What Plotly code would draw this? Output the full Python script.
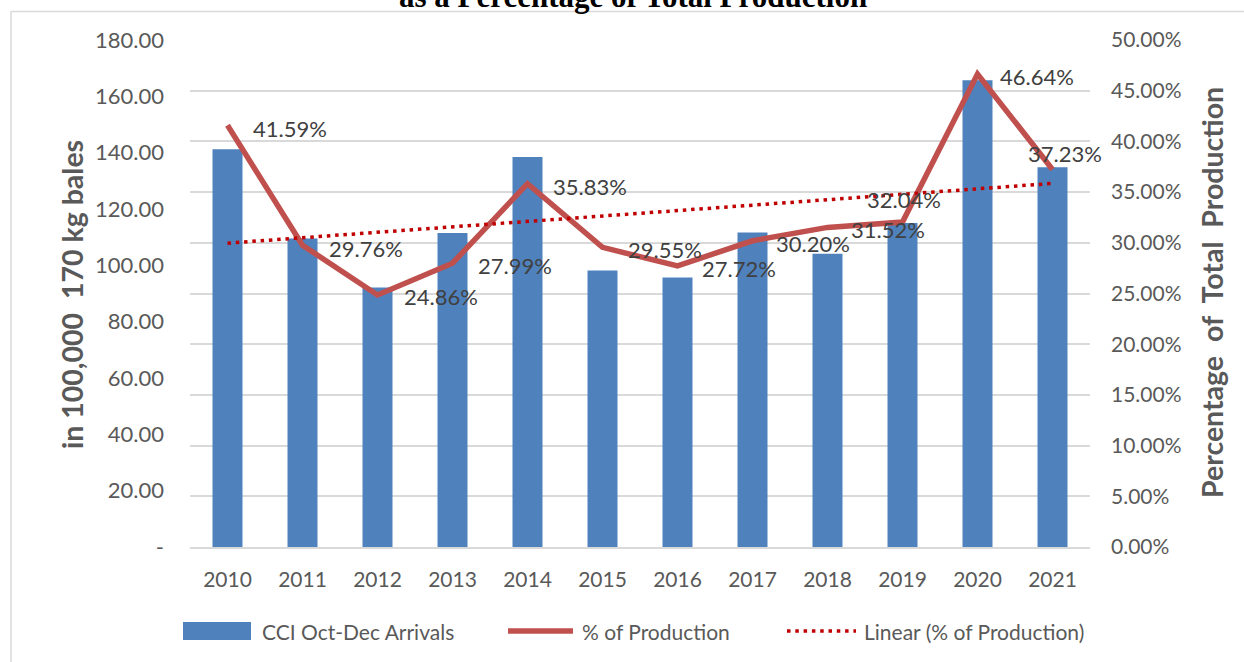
import numpy as np
import plotly.graph_objects as go

# ---------------- data ----------------
years = ["2010", "2011", "2012", "2013", "2014", "2015",
         "2016", "2017", "2018", "2019", "2020", "2021"]
arrivals = [141.2, 109.5, 92.1, 111.5, 138.5, 98.2,
            95.7, 111.7, 104.1, 115.0, 165.7, 134.8]
pct_production = [41.59, 29.76, 24.86, 27.99, 35.83, 29.55,
                  27.72, 30.20, 31.52, 32.04, 46.64, 37.23]
left_ticks = [0, 20, 40, 60, 80, 100, 120, 140, 160, 180]
left_ticktext = ["-"] + [f"{v:.2f}" for v in left_ticks[1:]]
right_ticks = [0, 5, 10, 15, 20, 25, 30, 35, 40, 45, 50]
right_ticktext = [f"{v:.2f}%" for v in right_ticks]

# linear trend (Excel "Linear" trendline) of the % series
idx = np.arange(1, len(pct_production) + 1)
slope, intercept = np.polyfit(idx, pct_production, 1)
trend = [float(t) for t in slope * idx + intercept]

# ---------------- layout geometry ----------------
W, H = 1244, 662
ML, MR, MT, MB = 190, 154, 40, 115
PW, PH = W - ML - MR, H - MT - MB


def px(cx):
    return (cx - ML) / PW


def py(cy):
    return 1 + (MT - cy) / PH


FONT = "Lato"
GREY = "#595959"
DARK = "#404040"
BLUE = "#4F81BD"
RED = "#C0504D"
TREND = "#C00000"

fig = go.Figure()
fig.add_trace(go.Bar(x=years, y=arrivals, name="CCI Oct-Dec Arrivals",
                     marker=dict(color=BLUE, line=dict(width=0)),
                     yaxis="y", showlegend=False))
fig.add_trace(go.Scatter(x=years, y=pct_production, name="% of Production",
                         mode="lines", line=dict(color=RED, width=5.5),
                         yaxis="y2", showlegend=False))
fig.add_trace(go.Scatter(x=years, y=trend, name="Linear (% of Production)",
                         mode="lines",
                         line=dict(color=TREND, width=3.5, dash="3.5px,4.8px"),
                         yaxis="y2", showlegend=False))

# data labels (manually offset as in the reference)
label_offsets = [(23, -3), (24, -3), (24, -2), (23, -2), (23, -3), (23, -2),
                 (22, -2.5), (21.5, -2.5), (21.5, -2.6), (-37.7, 22.8),
                 (20.7, -2), (-26.8, 16)]
annotations = []
for i, (v, (dx, dy)) in enumerate(zip(pct_production, label_offsets)):
    annotations.append(dict(x=i, y=v, xref="x", yref="y2",
                            text=f"{v:.2f}%", showarrow=False,
                            xanchor="left", yanchor="middle",
                            xshift=dx, yshift=dy,
                            font=dict(family=FONT, size=22, color=DARK)))

# axis titles
annotations.append(dict(x=px(72), y=py(294), xref="paper", yref="paper",
                        text="<b>in 100,000  170 kg bales</b>", textangle=-90,
                        showarrow=False, xanchor="center", yanchor="middle",
                        font=dict(family=FONT, size=28.5, color=GREY)))
annotations.append(dict(x=px(1212), y=py(293), xref="paper", yref="paper",
                        text="<b>Percentage  of  Total  Production</b>", textangle=-90,
                        showarrow=False, xanchor="center", yanchor="middle",
                        font=dict(family=FONT, size=28.5, color=GREY)))
# clipped title
annotations.append(dict(x=px(633), y=py(-3.6), xref="paper", yref="paper",
                        text="<b>as a Percentage of Total Production</b>",
                        showarrow=False, xanchor="center", yanchor="middle",
                        font=dict(family="Liberation Serif", size=31, color="black")))

# manual legend
LEG_Y = 631
legend_items = [("CCI Oct-Dec Arrivals", 260), ("% of Production", 580),
                ("Linear (% of Production)", 862)]
for txt, lx in legend_items:
    annotations.append(dict(x=px(lx), y=py(LEG_Y), xref="paper", yref="paper",
                            text=txt, showarrow=False, xanchor="left", yanchor="middle",
                            font=dict(family=FONT, size=21, color=GREY)))

shapes = [
    # chart border (left + top)
    dict(type="line", xref="paper", yref="paper", x0=px(11), x1=px(1260),
         y0=py(11.5), y1=py(11.5), line=dict(color="#D9D9D9", width=1.5)),
    dict(type="line", xref="paper", yref="paper", x0=px(11), x1=px(11),
         y0=py(11.5), y1=py(700), line=dict(color="#D9D9D9", width=1.5)),
    # legend symbols
    dict(type="rect", xref="paper", yref="paper", x0=px(183), x1=px(251),
         y0=py(640), y1=py(622), fillcolor=BLUE, line=dict(width=0)),
    dict(type="line", xref="paper", yref="paper", x0=px(508), x1=px(573),
         y0=py(LEG_Y), y1=py(LEG_Y), line=dict(color=RED, width=5.5)),
    dict(type="line", xref="paper", yref="paper", x0=px(787), x1=px(856),
         y0=py(LEG_Y), y1=py(LEG_Y), line=dict(color=TREND, width=3.5, dash="3.5px,4.8px")),
]

fig.update_layout(
    width=W, height=H, autosize=False,
    margin=dict(l=ML, r=MR, t=MT, b=MB, pad=0),
    paper_bgcolor="white", plot_bgcolor="white",
    bargap=0.6,
    xaxis=dict(type="category", range=[-0.5, len(years) - 0.5],
               showgrid=False, showline=True,
               linecolor="#D9D9D9", linewidth=1.5, ticks="",
               tickfont=dict(family=FONT, size=21, color=GREY),
               ticklabelstandoff=13, zeroline=False, fixedrange=True),
    yaxis=dict(range=[0, 180], tickvals=left_ticks, ticktext=left_ticktext,
               showgrid=False, zeroline=False, showline=False, ticks="",
               tickfont=dict(family=FONT, size=22, color=GREY),
               ticklabelstandoff=25),
    yaxis2=dict(range=[0, 50], tickvals=right_ticks, ticktext=right_ticktext,
                overlaying="y", side="right", showgrid=True,
                gridcolor="#D9D9D9", gridwidth=1.5, zeroline=False,
                showline=False, ticks="",
                tickfont=dict(family=FONT, size=21, color=GREY),
                ticklabelstandoff=20),
    annotations=annotations, shapes=shapes, showlegend=False,
)

fig.write_html("out.html", config={"displayModeBar": False},
               post_script="document.body.style.margin='0';document.body.style.overflow='hidden';")
